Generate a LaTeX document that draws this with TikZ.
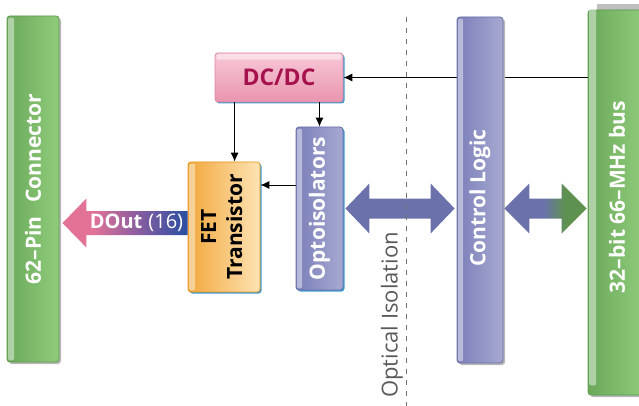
\documentclass[tikz,border=0pt]{standalone}
\usepackage{fontspec}
\usepackage{graphicx}
\setmainfont{Open Sans}
\usetikzlibrary{arrows.meta,calc,shadows}
\definecolor{gL}{HTML}{6BA95B}
\definecolor{gR}{HTML}{8FCC7A}
\definecolor{gB}{HTML}{5E9A4E}
\definecolor{pL}{HTML}{7A7FB8}
\definecolor{pR}{HTML}{A7A9D1}
\definecolor{pB}{HTML}{6A6FA8}
\definecolor{oL}{HTML}{F2A83E}
\definecolor{oR}{HTML}{FDE3B4}
\definecolor{oB}{HTML}{E8961E}
\definecolor{kT}{HTML}{F8C9D8}
\definecolor{kBt}{HTML}{E994AE}
\definecolor{kB}{HTML}{D98AA3}
\definecolor{kTx}{HTML}{A5124E}
\definecolor{shBlue}{HTML}{3C9AD0}
\definecolor{cpur}{HTML}{6B72AB}
\definecolor{cgrn}{HTML}{5E9150}
\definecolor{dpink}{HTML}{E27397}
\definecolor{dpurp}{HTML}{8E5EA0}
\definecolor{dblue}{HTML}{2E4FA2}
\definecolor{isoGray}{HTML}{5A5A5A}
\pgfdeclarehorizontalshading{cbshade}{100bp}{color(0bp)=(cpur); color(49bp)=(cpur); color(62bp)=(cgrn); color(100bp)=(cgrn)}
\pgfdeclarehorizontalshading{doutshade}{100bp}{color(0bp)=(dpink); color(37bp)=(dpink); color(54bp)=(dpurp); color(74bp)=(dblue); color(100bp)=(dblue)}
\begin{document}
\begin{tikzpicture}[x=1pt,y=-1pt,
  lbl/.style={font=\fontsize{21}{27}\selectfont\bfseries},
  blk/.style={draw, rounded corners=3pt, line width=0.8pt, inner sep=0pt},
  gshadow/.style={drop shadow={shadow xshift=2pt,shadow yshift=-2pt,fill=black!28,opacity=1}},
  bshadow/.style={drop shadow={shadow xshift=1.5pt,shadow yshift=-1.5pt,fill=shBlue,opacity=1}},
  greenbar/.style={blk, gshadow, draw=gB, left color=gL, right color=gR, text=white, lbl},
  purplebox/.style={blk, draw=pB, left color=pL, right color=pR, text=white, lbl},
  orangebox/.style={blk, bshadow, draw=oB, left color=oL, right color=oR, text=black, lbl},
  pinkbox/.style={blk, bshadow, draw=kB, top color=kT, bottom color=kBt, text=kTx, lbl},
  hilite/.style={fill=white, opacity=0.45, rounded corners=2pt},
  thinarrow/.style={-{Latex[length=9pt,width=8pt]}, line width=0.9pt},
]
\useasboundingbox[fill=white] (0,0) rectangle (639,406);

% left connector bar
\node[greenbar, minimum width=52pt, minimum height=346pt] (lbar) at (33,189)
  {\rotatebox{90}{62–Pin\hspace{14pt}Connector}};
\fill[hilite] ($(lbar.north west)+(1.5,2)$) rectangle ($(lbar.south west)+(7.5,-2)$);

% DC/DC
\node[pinkbox, minimum width=128pt, minimum height=49pt, font=\fontsize{23}{27}\selectfont\bfseries] (dcdc) at (279,77.5) {DC/DC};
\fill[hilite] ($(dcdc.north west)+(2,1.5)$) rectangle ($(dcdc.north east)+(-2,7)$);

% FET transistor
\node[orangebox, minimum width=72pt, minimum height=130pt] (fet) at (224,227)
  {\rotatebox{90}{\fontsize{21}{26}\selectfont\begin{tabular}{@{}c@{}}FET\\Transistor\end{tabular}}};
\fill[hilite] ($(fet.north west)+(1.5,2)$) rectangle ($(fet.south west)+(7.5,-2)$);

% Optoisolators
\node[purplebox, bshadow, minimum width=47pt, minimum height=163pt] (opto) at (319.5,208.5)
  {\rotatebox{90}{Optoisolators}};
\fill[hilite] ($(opto.north west)+(1.5,2)$) rectangle ($(opto.south west)+(6.5,-2)$);

% right bus bar
\fill[black!25] (597,4) rectangle (645,10);
\node[greenbar, minimum width=57pt, minimum height=385pt] (rbar) at (616.5,202.5) {};
\node[text=white, lbl] (rlab) at (617,197) {\rotatebox{90}{32–bit 66–MHz bus}};
\fill[hilite] ($(rbar.north west)+(1.5,-5)$) rectangle ($(rbar.south west)+(8.5,-10)$);

% bus -> DC/DC (passes behind Control Logic)
\draw[thinarrow] (rbar.west |- dcdc.east) -- (dcdc.east);

% Control Logic
\node[purplebox, gshadow, minimum width=46pt, minimum height=346pt] (ctrl) at (480,190) {};
\node[text=white, lbl] (clab) at (480,198) {\rotatebox{90}{Control Logic}};
\fill[hilite] ($(ctrl.north west)+(1.5,2)$) rectangle ($(ctrl.south west)+(6.5,-2)$);

% thin arrows
\coordinate (f1) at ($(dcdc.south west)+(20,0)$);
\draw[thinarrow] (f1) -- (f1 |- fet.north);
\draw[thinarrow] (dcdc.south -| opto.north) -- (opto.north);
\coordinate (o1) at ($(opto.west)+(0,-23.5)$);
\draw[thinarrow] (o1) -- (fet.east |- o1);

% fat double arrow Optoisolators <-> Control Logic
\coordinate (a1) at ($(opto.east)+(2,0)$);
\coordinate (a2) at ($(ctrl.west |- opto.east)+(-2,0)$);
\fill[cpur] let \p1=(a1), \p2=(a2), \n1={\x2-\x1-48pt} in
  (a1) -- ++(24,-25) -- ++(0,15) -- ++(\n1,0pt) -- ++(0,-15) -- (a2)
  -- ++(-24,25) -- ++(0,-15) -- ++(-\n1,0pt) -- ++(0,15) -- cycle;

% fat double arrow Control Logic <-> bus
\coordinate (a3) at ($(ctrl.east |- opto.east)+(1,0)$);
\coordinate (a4) at ($(rbar.west |- opto.east)+(-1,0)$);
\shade[shading=cbshade] let \p1=(a3), \p2=(a4), \n1={\x2-\x1-50pt} in
  (a3) -- ++(25,-25) -- ++(0,15) -- ++(\n1,0pt) -- ++(0,-15) -- (a4)
  -- ++(-25,25) -- ++(0,-15) -- ++(-\n1,0pt) -- ++(0,15) -- cycle;

% DOut arrow FET -> connector
\coordinate (dtail) at ($(fet.west)+(0,-4)$);
\coordinate (dtip) at ($(lbar.east |- dtail)+(3,0)$);
\shade[shading=doutshade] let \p1=(dtip), \p2=(dtail), \n1={\x2-\x1-24pt} in
  (dtip) -- ++(24,-24.5) -- ++(0,12.5) -- ++(\n1,0pt) -- ++(0,24)
  -- ++(-\n1,0pt) -- ++(0,12.5) -- cycle;
\node[text=white, font=\fontsize{20}{24}\selectfont] (dlab) at (136.5,223)
  {\bfseries DOut\hspace{6pt}\mdseries(16)};

% optical isolation boundary
\draw[black!55, line width=1pt, dash pattern=on 5pt off 6pt] (406,17) -- (406,406);
\node[text=isoGray, font=\fontsize{22}{26}\selectfont, rotate=90, anchor=west, inner sep=0pt] (iso) at (392,398) {Optical Isolation};
\end{tikzpicture}
\end{document}
